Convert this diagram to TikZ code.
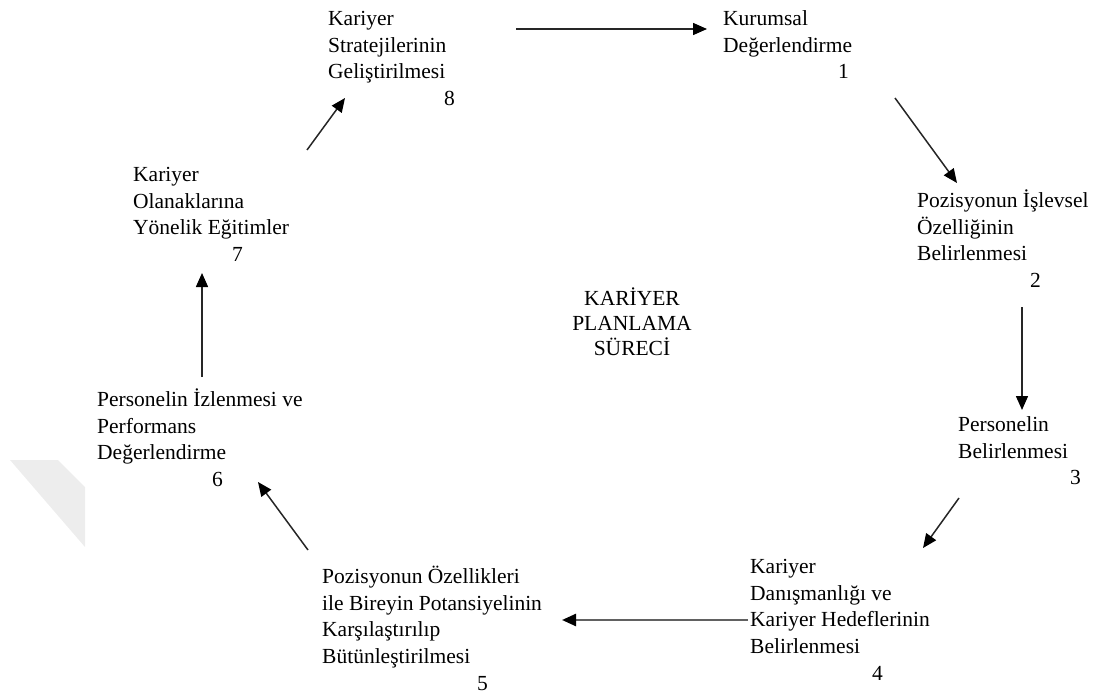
\documentclass[tikz,border=0pt]{standalone}
\usepackage{fontspec}
\setmainfont{Liberation Serif}
\usetikzlibrary{arrows.meta}
\newcommand\myTopStrut{\rule{0pt}{20pt}}
\begin{document}
\begin{tikzpicture}[x=1pt,y=-1pt,
  lbl/.style={anchor=north west, inner sep=0pt, align=left, font=\fontsize{21.5}{26.8}\selectfont},
  ctr/.style={anchor=north, inner sep=0pt, align=center, font=\fontsize{21.5}{25}\selectfont},
  flow/.style={line width=1.5pt, draw=black!85, -{Triangle[length=14pt,width=12pt,fill=black,color=black]}},
  flowgray/.style={line width=2.4pt, draw=black!62, -{Triangle[length=14pt,width=12pt,fill=black,color=black]}},
]
\useasboundingbox (0,0) rectangle (1096,696);
% faint watermark fragment
\fill[black!7] (10,460) -- (58,460) -- (85,487) -- (85,547) -- cycle;

% text blocks
\node[lbl] (n8) at (328,5) {\myTopStrut Kariyer\\Stratejilerinin\\Geliştirilmesi\\\hspace*{116pt}8};
\node[lbl] (n1) at (723,5) {\myTopStrut Kurumsal\\Değerlendirme\\\hspace*{115pt}1};
\node[lbl] (n2) at (917,187) {\myTopStrut Pozisyonun İşlevsel\\Özelliğinin\\Belirlenmesi\\\hspace*{113pt}2};
\node[lbl] (n3) at (958,411) {\myTopStrut Personelin\\Belirlenmesi\\\hspace*{112pt}3};
\node[lbl] (n4) at (750,553) {\myTopStrut Kariyer\\Danışmanlığı ve\\Kariyer Hedeflerinin\\Belirlenmesi\\\hspace*{122pt}4};
\node[lbl] (n5) at (322,563) {\myTopStrut Pozisyonun Özellikleri\\ile Bireyin Potansiyelinin\\Karşılaştırılıp\\Bütünleştirilmesi\\\hspace*{155pt}5};
\node[lbl] (n6) at (97,386) {\myTopStrut Personelin İzlenmesi ve\\Performans\\Değerlendirme\\\hspace*{115pt}6};
\node[lbl] (n7) at (133,161) {\myTopStrut Kariyer\\Olanaklarına\\Yönelik Eğitimler\\\hspace*{99pt}7};
\node[ctr] (c) at (632,285) {\myTopStrut KARİYER\\PLANLAMA\\SÜRECİ};

% arrow end points
\coordinate (a81s) at (516,29);  \coordinate (a81e) at (707,29);
\coordinate (a12s) at (895,98);  \coordinate (a12e) at (957,183);
\coordinate (a23s) at (1022,307); \coordinate (a23e) at (1022,410);
\coordinate (a34s) at (959,498); \coordinate (a34e) at (923,548);
\coordinate (a45s) at (748,620); \coordinate (a45e) at (562,620);
\coordinate (a56s) at (308,550); \coordinate (a56e) at (258,482);
\coordinate (a67s) at (202,377); \coordinate (a67e) at (202,273);
\coordinate (a78s) at (307,150); \coordinate (a78e) at (345,98);

\draw[flow] (a81s) -- (a81e);
\draw[flow] (a12s) -- (a12e);
\draw[flow] (a23s) -- (a23e);
\draw[flow] (a34s) -- (a34e);
\draw[flowgray] (a45s) -- (a45e);
\draw[flow] (a56s) -- (a56e);
\draw[flow] (a67s) -- (a67e);
\draw[flow] (a78s) -- (a78e);
\end{tikzpicture}
\end{document}
